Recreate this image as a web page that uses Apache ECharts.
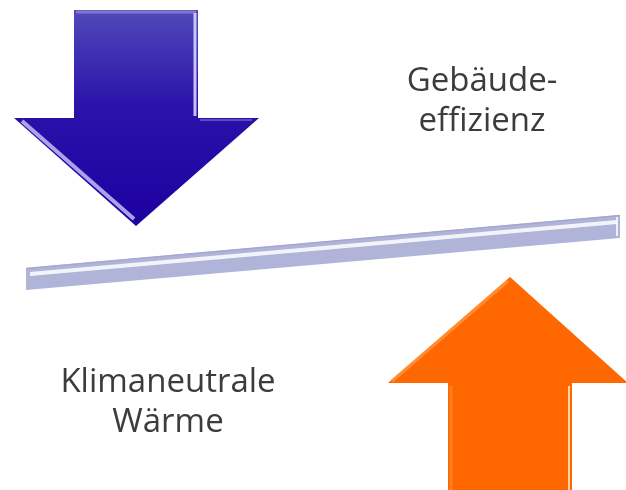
<!DOCTYPE html>
<html>
<head>
<meta charset="utf-8">
<script src="https://cdn.jsdelivr.net/npm/echarts@6/dist/echarts.min.js"></script>
<style>
  html, body { margin: 0; padding: 0; background: #fff; }
  #chart { width: 626px; height: 490px; }
</style>
</head>
<body>
<div id="chart"></div>
<script>
// Umriss-Punkte in Bildkoordinaten (x nach rechts, y nach unten)
const blueArrow = [[74, 10], [198, 10], [198, 118], [259, 118], [136, 226], [14, 118], [74, 118]];
const orangeArrow = [[448, 492], [448, 383], [388, 383], [510, 277], [628, 383], [572, 383], [572, 492]];
const beam = [[26, 268], [620, 215], [620, 238], [26, 290]];
const labels = [
  { name: 'Gebäude-\neffizienz', value: [482, 102] },
  { name: 'Klimaneutrale\nWärme', value: [168, 403] }
];

const chart = echarts.init(document.getElementById('chart'));

function toPx(api, pts) {
  return pts.map(p => api.coord(p));
}

// Polygon mit Verlauf + Glanzkanten
function shapeSeries(name, pts, fill, highlights) {
  return {
    type: 'custom',
    name: name,
    data: [0],
    silent: true,
    renderItem: function (params, api) {
      const children = [{
        type: 'polygon',
        shape: { points: toPx(api, pts) },
        style: { fill: fill }
      }];
      (highlights || []).forEach(h => {
        children.push({
          type: 'polyline',
          shape: { points: toPx(api, h.pts) },
          style: { stroke: h.color, lineWidth: h.width, opacity: h.opacity, fill: null }
        });
      });
      return { type: 'group', children: children };
    }
  };
}

const option = {
  animation: false,
  grid: { left: 0, right: 0, top: 0, bottom: 0 },
  xAxis: { type: 'value', min: 0, max: 626, show: false },
  yAxis: { type: 'value', min: 0, max: 490, inverse: true, show: false },
  series: [
    shapeSeries('blau', blueArrow,
      new echarts.graphic.LinearGradient(0, 0, 0, 1, [
        { offset: 0, color: '#5149b9' },
        { offset: 0.45, color: '#2a12aa' },
        { offset: 1, color: '#1c00a0' }
      ]),
      [
        { pts: [[76, 12], [196, 12]], color: '#8a84d8', width: 3, opacity: 0.8 },
        { pts: [[195, 13], [195, 116]], color: '#d8d4ff', width: 3, opacity: 0.9 },
        { pts: [[22, 121], [134, 219]], color: '#c4bdf6', width: 4, opacity: 0.85 },
        { pts: [[200, 120], [252, 120]], color: '#6f66cc', width: 2, opacity: 0.7 }
      ]),
    shapeSeries('balken', beam, '#b0b4d9', [
      { pts: [[30, 274], [617, 222]], color: '#ffffff', width: 4, opacity: 0.85 },
      { pts: [[26, 268.5], [620, 215.5]], color: '#a4a8d0', width: 1.5, opacity: 1 },
      { pts: [[617, 217], [617, 236]], color: '#ffffff', width: 2, opacity: 0.8 }
    ]),
    shapeSeries('orange', orangeArrow, '#ff6800', [
      { pts: [[392, 381], [508, 281]], color: '#ff9440', width: 3, opacity: 0.8 },
      { pts: [[451, 386], [451, 490]], color: '#ff8a30', width: 3, opacity: 0.7 },
      { pts: [[569, 386], [569, 490]], color: '#ffe0b0', width: 2, opacity: 0.9 }
    ]),
    {
      type: 'scatter',
      data: labels,
      symbolSize: 0,
      silent: true,
      itemStyle: { opacity: 1 },
      label: {
        show: true,
        position: 'inside',
        formatter: p => p.name,
        color: '#3c3c3c',
        fontFamily: 'Open Sans',
        fontSize: 33,
        lineHeight: 40,
        align: 'center',
        verticalAlign: 'middle'
      }
    }
  ]
};

chart.setOption(option);
</script>
</body>
</html>
